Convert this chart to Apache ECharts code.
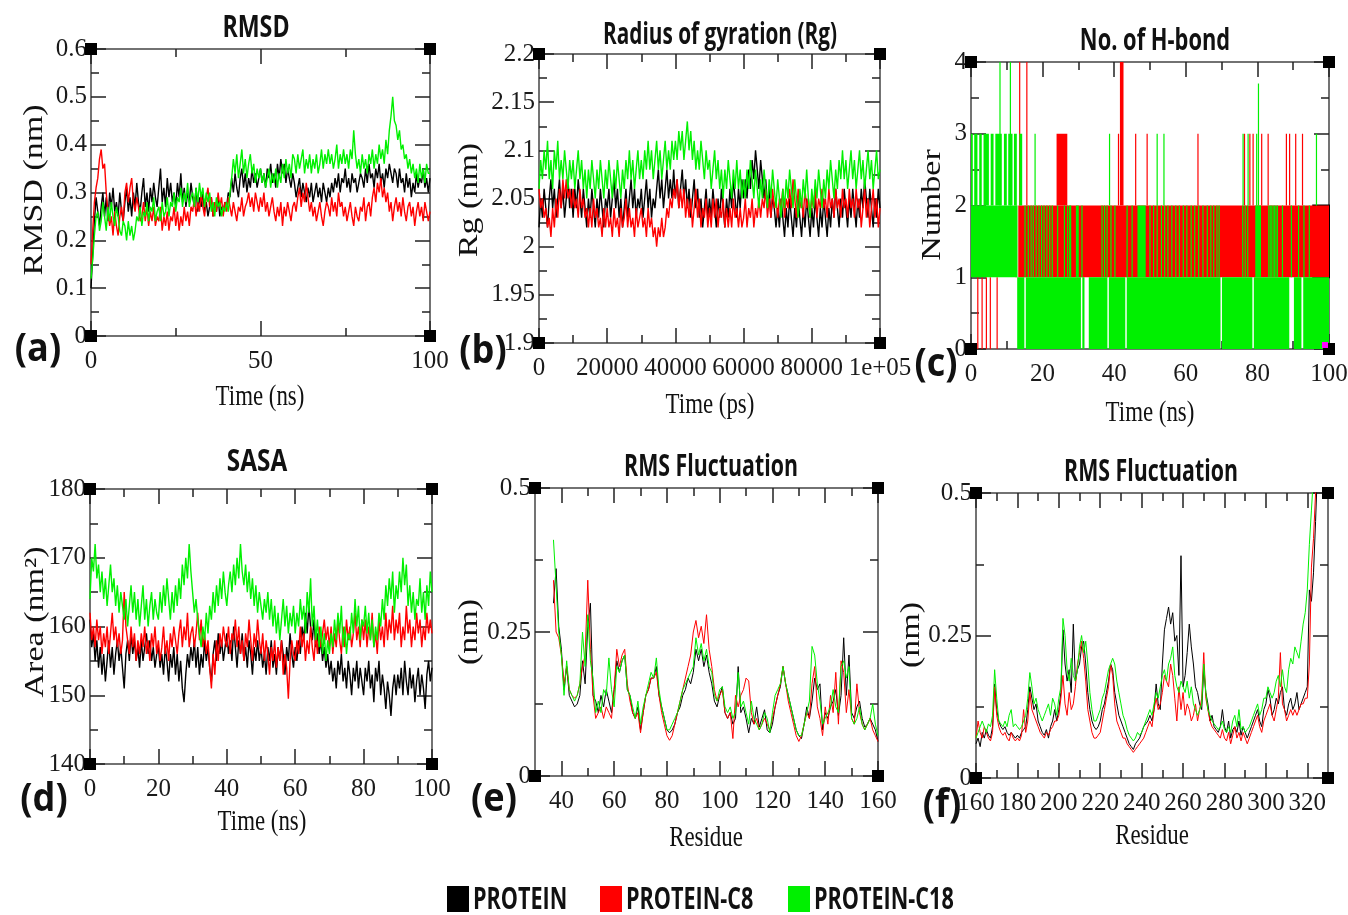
<!DOCTYPE html>
<html>
<head>
<meta charset="utf-8">
<title>MD analysis panels</title>
<script src="https://cdn.jsdelivr.net/npm/echarts@6/dist/echarts.min.js"></script>
<style>
  html, body { margin: 0; padding: 0; background: #fff; }
  #main { width: 1348px; height: 915px; }
</style>
</head>
<body>
<div id="main"></div>
<script>
// legend / series
var seriesNames = ['PROTEIN', 'PROTEIN-C8', 'PROTEIN-C18'];
var seriesColors = ['#000000', '#ff0000', '#00f000'];

// (a) RMSD (nm), one value per 0.5 ns, 0..100 ns
var rmsdBlack = [0.10,0.17,0.24,0.29,0.26,0.23,0.27,0.30,0.25,0.29,0.24,0.30,0.27,0.31,0.26,0.28,0.25,0.30,0.26,0.24,
  0.28,0.31,0.26,0.29,0.25,0.30,0.27,0.32,0.28,0.26,0.30,0.33,0.27,0.30,0.26,0.31,0.28,0.32,0.29,0.27,
  0.31,0.35,0.28,0.31,0.27,0.33,0.29,0.32,0.28,0.30,0.27,0.32,0.29,0.34,0.28,0.31,0.27,0.30,0.28,0.32,
  0.29,0.27,0.31,0.26,0.29,0.27,0.30,0.26,0.28,0.25,0.27,0.29,0.25,0.28,0.26,0.29,0.25,0.27,0.26,0.28,
  0.27,0.30,0.29,0.33,0.30,0.34,0.31,0.29,0.33,0.35,0.31,0.34,0.30,0.33,0.31,0.35,0.32,0.34,0.31,0.33,
  0.35,0.32,0.34,0.31,0.35,0.33,0.36,0.32,0.34,0.31,0.36,0.33,0.37,0.34,0.36,0.32,0.35,0.33,0.31,0.34,
  0.32,0.29,0.31,0.33,0.29,0.32,0.30,0.28,0.31,0.29,0.32,0.28,0.30,0.32,0.29,0.31,0.28,0.32,0.30,0.28,
  0.31,0.29,0.32,0.30,0.33,0.31,0.34,0.30,0.33,0.32,0.35,0.31,0.33,0.30,0.34,0.32,0.33,0.30,0.32,0.34,
  0.33,0.31,0.35,0.32,0.36,0.33,0.34,0.31,0.35,0.33,0.36,0.32,0.34,0.31,0.35,0.33,0.36,0.34,0.32,0.35,
  0.34,0.31,0.35,0.32,0.33,0.30,0.34,0.31,0.33,0.29,0.32,0.30,0.34,0.31,0.33,0.32,0.35,0.31,0.33,0.30,
  0.33];
var rmsdRed = [0.15,0.22,0.28,0.31,0.33,0.37,0.39,0.35,0.36,0.30,0.26,0.23,0.25,0.21,0.26,0.23,0.21,0.25,0.27,0.24,
  0.30,0.32,0.28,0.31,0.33,0.28,0.26,0.29,0.27,0.24,0.25,0.28,0.24,0.27,0.23,0.26,0.24,0.27,0.23,0.25,
  0.24,0.27,0.22,0.25,0.23,0.26,0.22,0.25,0.24,0.27,0.23,0.26,0.22,0.25,0.23,0.27,0.24,0.26,0.23,0.27,
  0.26,0.29,0.25,0.28,0.26,0.30,0.27,0.25,0.29,0.31,0.27,0.29,0.25,0.28,0.26,0.30,0.27,0.29,0.25,0.28,
  0.26,0.29,0.27,0.25,0.28,0.26,0.24,0.27,0.26,0.29,0.25,0.27,0.28,0.30,0.27,0.29,0.26,0.30,0.28,0.26,
  0.29,0.27,0.30,0.26,0.28,0.25,0.27,0.29,0.26,0.24,0.27,0.25,0.28,0.23,0.27,0.25,0.28,0.26,0.24,0.27,
  0.28,0.26,0.29,0.31,0.27,0.30,0.28,0.32,0.29,0.26,0.28,0.25,0.27,0.24,0.26,0.28,0.25,0.23,0.26,0.28,
  0.27,0.25,0.29,0.26,0.28,0.25,0.30,0.27,0.28,0.25,0.27,0.24,0.26,0.28,0.25,0.23,0.27,0.25,0.24,0.27,
  0.26,0.29,0.24,0.27,0.28,0.25,0.29,0.31,0.28,0.32,0.30,0.33,0.29,0.31,0.28,0.30,0.26,0.28,0.24,0.27,
  0.29,0.26,0.28,0.25,0.29,0.26,0.24,0.27,0.28,0.25,0.27,0.23,0.26,0.28,0.25,0.27,0.24,0.28,0.26,0.24,
  0.26];
var rmsdGreen = [0.12,0.16,0.21,0.25,0.26,0.22,0.24,0.28,0.25,0.22,0.27,0.24,0.28,0.25,0.23,0.27,0.25,0.22,0.21,0.24,
  0.23,0.20,0.24,0.21,0.23,0.20,0.22,0.25,0.24,0.27,0.23,0.26,0.25,0.28,0.24,0.27,0.26,0.29,0.24,0.26,
  0.27,0.24,0.28,0.25,0.26,0.29,0.25,0.28,0.27,0.30,0.26,0.29,0.28,0.31,0.27,0.30,0.28,0.32,0.27,0.29,
  0.30,0.27,0.31,0.28,0.32,0.29,0.31,0.27,0.30,0.28,0.30,0.26,0.28,0.25,0.29,0.27,0.28,0.25,0.27,0.26,
  0.28,0.26,0.30,0.33,0.37,0.34,0.38,0.33,0.36,0.39,0.34,0.37,0.33,0.36,0.38,0.34,0.36,0.32,0.35,0.33,
  0.35,0.32,0.34,0.31,0.33,0.35,0.31,0.34,0.32,0.35,0.31,0.34,0.32,0.36,0.33,0.37,0.34,0.36,0.33,0.38,
  0.37,0.34,0.38,0.35,0.37,0.39,0.34,0.37,0.35,0.38,0.34,0.37,0.35,0.38,0.34,0.36,0.39,0.35,0.38,0.36,
  0.39,0.36,0.38,0.35,0.37,0.40,0.35,0.38,0.36,0.39,0.36,0.38,0.35,0.39,0.37,0.43,0.38,0.35,0.37,0.34,
  0.38,0.35,0.37,0.34,0.38,0.36,0.39,0.35,0.38,0.36,0.40,0.37,0.39,0.36,0.41,0.38,0.43,0.46,0.50,0.45,
  0.44,0.41,0.43,0.39,0.40,0.37,0.38,0.35,0.37,0.34,0.36,0.33,0.35,0.32,0.36,0.33,0.35,0.32,0.36,0.34,
  0.34];

// (b) Rg (nm), one value per 500 ps
var rgBlack = [2.02,2.05,2.03,2.06,2.04,2.02,2.05,2.07,2.04,2.06,2.03,2.05,2.07,2.04,2.06,2.03,2.05,2.07,2.04,2.06,
  2.03,2.06,2.04,2.07,2.05,2.03,2.06,2.04,2.02,2.05,2.03,2.06,2.04,2.02,2.05,2.03,2.06,2.04,2.02,2.05,
  2.04,2.06,2.03,2.05,2.07,2.04,2.06,2.03,2.05,2.02,2.04,2.06,2.03,2.05,2.07,2.04,2.06,2.03,2.05,2.04,
  2.06,2.03,2.05,2.07,2.04,2.06,2.03,2.05,2.04,2.06,2.08,2.05,2.07,2.04,2.06,2.08,2.05,2.07,2.05,2.08,
  2.05,2.07,2.04,2.06,2.08,2.05,2.07,2.04,2.06,2.03,2.05,2.07,2.04,2.06,2.03,2.05,2.02,2.04,2.06,2.03,
  2.05,2.03,2.06,2.04,2.02,2.05,2.03,2.06,2.04,2.02,2.05,2.03,2.06,2.04,2.07,2.05,2.03,2.06,2.04,2.07,
  2.05,2.07,2.05,2.08,2.06,2.09,2.07,2.10,2.08,2.06,2.09,2.07,2.05,2.07,2.04,2.06,2.03,2.05,2.04,2.02,
  2.04,2.02,2.05,2.03,2.01,2.04,2.02,2.05,2.03,2.01,2.04,2.02,2.05,2.03,2.01,2.04,2.02,2.05,2.03,2.01,
  2.04,2.02,2.05,2.03,2.01,2.04,2.02,2.05,2.03,2.01,2.04,2.02,2.05,2.03,2.06,2.04,2.02,2.05,2.03,2.06,
  2.04,2.02,2.05,2.03,2.06,2.04,2.02,2.05,2.03,2.06,2.04,2.07,2.05,2.03,2.06,2.04,2.02,2.05,2.03,2.06,
  2.04];
var rgRed = [2.06,2.04,2.05,2.03,2.04,2.02,2.03,2.01,2.04,2.02,2.05,2.03,2.06,2.04,2.07,2.05,2.07,2.05,2.06,2.04,
  2.06,2.04,2.05,2.03,2.06,2.04,2.05,2.03,2.04,2.02,2.04,2.02,2.05,2.03,2.04,2.02,2.03,2.01,2.04,2.02,
  2.04,2.02,2.03,2.01,2.04,2.02,2.03,2.01,2.04,2.02,2.03,2.05,2.02,2.04,2.02,2.03,2.01,2.04,2.02,2.03,
  2.04,2.02,2.03,2.01,2.04,2.02,2.03,2.01,2.02,2.00,2.02,2.01,2.03,2.01,2.02,2.04,2.03,2.05,2.04,2.06,
  2.05,2.07,2.04,2.06,2.04,2.06,2.03,2.05,2.03,2.05,2.02,2.04,2.06,2.03,2.05,2.02,2.04,2.03,2.05,2.02,
  2.04,2.02,2.05,2.03,2.05,2.02,2.04,2.03,2.05,2.02,2.04,2.02,2.04,2.02,2.05,2.03,2.04,2.02,2.04,2.02,
  2.03,2.05,2.02,2.04,2.03,2.05,2.02,2.04,2.03,2.05,2.03,2.05,2.04,2.06,2.03,2.05,2.03,2.06,2.04,2.05,
  2.03,2.05,2.04,2.06,2.03,2.05,2.04,2.06,2.04,2.07,2.05,2.03,2.06,2.04,2.05,2.03,2.06,2.04,2.05,2.03,
  2.05,2.04,2.06,2.03,2.05,2.04,2.06,2.04,2.05,2.03,2.06,2.04,2.05,2.03,2.06,2.04,2.05,2.03,2.06,2.04,
  2.05,2.03,2.06,2.04,2.05,2.03,2.06,2.04,2.05,2.02,2.04,2.06,2.03,2.05,2.02,2.04,2.06,2.03,2.05,2.02,
  2.04];
var rgGreen = [2.06,2.09,2.07,2.10,2.08,2.11,2.07,2.09,2.06,2.10,2.08,2.11,2.07,2.09,2.07,2.10,2.08,2.06,2.09,2.07,
  2.09,2.06,2.08,2.10,2.07,2.09,2.06,2.08,2.05,2.08,2.06,2.09,2.07,2.05,2.08,2.06,2.09,2.07,2.05,2.08,
  2.06,2.09,2.07,2.05,2.08,2.06,2.09,2.07,2.05,2.08,2.06,2.09,2.07,2.10,2.07,2.09,2.06,2.08,2.10,2.07,
  2.09,2.07,2.10,2.08,2.11,2.08,2.10,2.07,2.09,2.11,2.08,2.10,2.07,2.09,2.11,2.08,2.10,2.08,2.11,2.09,
  2.11,2.09,2.12,2.10,2.12,2.09,2.11,2.13,2.10,2.12,2.09,2.11,2.08,2.10,2.08,2.11,2.09,2.07,2.10,2.08,
  2.09,2.06,2.08,2.10,2.07,2.09,2.06,2.08,2.05,2.08,2.06,2.09,2.07,2.05,2.08,2.06,2.09,2.06,2.08,2.05,
  2.07,2.05,2.08,2.06,2.09,2.07,2.05,2.08,2.06,2.04,2.07,2.05,2.08,2.06,2.04,2.07,2.05,2.08,2.06,2.04,
  2.07,2.05,2.03,2.06,2.04,2.07,2.05,2.08,2.06,2.04,2.07,2.05,2.03,2.06,2.04,2.07,2.05,2.08,2.05,2.03,
  2.06,2.04,2.07,2.05,2.08,2.06,2.04,2.07,2.05,2.08,2.06,2.09,2.07,2.05,2.08,2.06,2.09,2.07,2.10,2.07,
  2.09,2.06,2.08,2.10,2.07,2.09,2.06,2.08,2.10,2.07,2.09,2.06,2.08,2.10,2.07,2.09,2.06,2.08,2.10,2.07,
  2.08];

// (c) H-bond count: blocks [t0, t1, low, high] where the count flips between low and high,
// spikes [t, low, high] for single jumps
var hbBlackBlocks = [[95.6, 100, 1, 2]];
var hbRedBlocks = [[13.2, 100, 1, 2], [23.9, 26.9, 2, 3], [41.6, 42.6, 2, 4]];
var hbRedSpikes = [[1.9,0,1],[3.1,0,1],[4.3,0,1],[5.4,0,1],[7.3,0,1],[12.6,1,2],[13.6,2,4],[15.6,2,4],
  [41.2,2,3],[46.0,2,3],[49.2,2,3],[63.4,2,3],[76.4,2,3],[77.9,2,3],[78.8,2,3],[81.2,2,3],[83.0,2,3],
  [88.1,2,3],[89.0,2,3],[90.7,2,3],[92.6,2,3]];
var hbGreenBlocks = [[0,13.0,1,2],
  [0,0.5,2,3],[0.9,1.8,2,3],[2.3,3.0,2,3],[3.5,5.0,2,3],[5.5,6.3,2,3],[6.8,8.6,2,3],[9.2,10.0,2,3],
  [10.4,11.6,2,3],[12.0,12.8,2,3],[13.5,14.3,2,3],
  [12.9,14.9,0,1],[15.3,30.7,0,1],[31.1,31.7,0,1],[32.9,38.1,0,1],[38.5,43.1,0,1],[43.5,69.7,0,1],
  [70.1,78.6,0,1],[79.0,88.9,0,1],[90.2,92.3,0,1],[92.8,100,0,1],
  [27.4,28.0,1,2],[29.3,30.1,1,2],[46.5,48.8,1,2],[79.4,81.0,1,2]];
var hbGreenSpikes = [[15.1,1,2],[16.0,1,2],[16.8,1,2],[17.4,1,2],[18.2,1,2],[19.0,1,2],[19.7,1,2],[20.4,1,2],
  [21.2,1,2],[22.0,1,2],[22.7,1,2],[24.2,1,2],[26.1,1,2],[27.0,1,2],[31.0,1,2],[36.6,1,2],[37.3,1,2],
  [38.0,1,2],[39.1,1,2],[40.2,1,2],[43.6,1,2],[45.0,1,2],[50.0,1,2],[51.0,1,2],[52.0,1,2],[53.2,1,2],
  [54.1,1,2],[55.0,1,2],[56.1,1,2],[57.2,1,2],[58.2,1,2],[59.3,1,2],[60.3,1,2],[61.5,1,2],[62.5,1,2],
  [63.6,1,2],[64.8,1,2],[66.0,1,2],[67.0,1,2],[67.8,1,2],[68.7,1,2],[69.3,1,2],[75.9,1,2],[76.6,1,2],
  [77.3,1,2],[83.2,1,2],[83.6,1,2],[84.0,1,2],[84.4,1,2],[84.8,1,2],[85.2,1,2],[85.6,1,2],[87.0,1,2],
  [89.5,1,2],[91.5,1,2],[93.0,1,2],[94.5,1,2],
  [17.9,2,3],[38.7,2,3],[52.0,2,3],[53.9,2,3],[76.0,2,3],[77.4,2,3],[79.8,2,3],[96.5,2,3],
  [8.1,2,4],[11.0,2,4],[80.3,2,3.7]];
var hbExtra = [[100, 0]];

// (d) SASA (nm^2), one value per 0.5 ns
var sasaBlack = [161,157,159,155,158,154,157,153,156,152,155,158,154,157,153,156,158,155,157,154,
  151,156,158,155,159,156,158,155,157,154,158,155,157,159,156,158,155,157,154,156,
  157,154,156,153,157,155,152,156,154,157,153,156,152,155,151,149,153,156,154,157,
  155,158,154,157,153,156,154,158,155,157,154,152,156,158,155,159,156,158,155,157,
  159,156,158,155,160,157,154,158,156,159,155,157,154,158,156,153,157,155,158,155,
  157,154,156,153,157,155,158,154,156,153,157,155,158,156,153,157,155,159,156,154,
  157,155,158,156,160,158,162,159,163,160,158,161,157,159,156,158,155,157,154,156,
  153,155,152,154,151,155,153,156,152,154,151,155,153,150,154,152,155,151,154,152,
  150,154,152,155,151,153,149,154,152,155,150,153,151,148,152,150,147,151,153,150,
  153,151,154,150,155,152,150,154,151,153,149,152,154,150,153,151,148,153,155,152,
  154];
var sasaRed = [162,158,160,157,161,158,160,156,159,157,160,156,159,162,158,160,157,159,156,158,
  165,160,158,156,160,157,159,155,158,156,159,157,160,156,158,155,159,157,160,156,
  158,155,157,160,156,158,155,159,157,160,158,156,159,161,157,160,158,162,157,159,
  160,157,159,162,158,161,157,159,156,158,154,151,156,153,158,155,159,157,160,158,
  157,160,156,159,158,161,157,160,156,158,155,159,157,161,158,155,159,157,161,158,
  156,159,155,158,156,153,157,155,158,154,157,155,158,153,156,154,149.5,155,158,156,
  155,158,156,160,157,159,155,158,156,160,157,155,159,156,160,157,159,161,158,160,
  157,160,156,159,157,161,158,156,160,157,161,158,160,157,159,162,158,160,157,161,
  158,161,157,160,158,162,157,159,156,161,158,160,157,162,158,161,159,163,158,161,
  159,162,157,160,158,163,159,161,157,160,158,162,159,161,157,160,158,162,159,161,
  159];
var sasaGreen = [164,170,168,172,167,169,165,168,164,167,163,166,169,165,167,163,166,162,165,163,
  161,164,160,163,166,162,165,161,164,160,163,166,161,164,160,163,165,161,164,162,
  161,165,162,166,163,167,164,161,165,162,166,163,167,164,169,166,170,167,172,168,
  165,162,164,161,159,157,160,158,162,159,163,161,165,162,166,163,167,164,168,165,
  163,166,168,165,169,166,170,167,172,168,166,169,165,168,164,167,163,166,162,165,
  163,161,164,162,165,161,164,160,163,159,162,158,161,164,160,163,159,162,160,163,
  159,162,160,164,161,163,159,165,162,167,160,163,158,161,157,160,156,159,155,158,
  156,159,157,161,158,162,159,163,157,160,156,159,158,162,159,164,160,163,158,161,
  160,163,159,162,158,161,157,160,158,162,160,164,161,166,163,167,164,168,162,166,
  164,168,165,170,166,169,163,166,162,165,161,164,163,167,162,165,161,166,163,168,
  165];

// (e) RMSF (nm), residues 37..160
var rmsfEStart = 37;
var rmsfEBlack = [0.30,0.36,0.26,0.22,0.15,0.19,0.14,0.13,0.12,0.125,
  0.14,0.20,0.16,0.26,0.30,0.14,0.13,0.11,0.14,0.12,
  0.15,0.13,0.11,0.15,0.20,0.18,0.20,0.21,0.15,0.14,
  0.11,0.10,0.12,0.08,0.11,0.14,0.15,0.17,0.17,0.19,
  0.14,0.12,0.10,0.08,0.075,0.08,0.09,0.11,0.12,0.14,
  0.15,0.17,0.16,0.18,0.22,0.20,0.22,0.19,0.21,0.18,
  0.16,0.13,0.12,0.14,0.155,0.11,0.10,0.11,0.09,0.10,
  0.19,0.11,0.12,0.10,0.075,0.10,0.09,0.12,0.085,0.10,
  0.115,0.08,0.075,0.09,0.12,0.14,0.155,0.19,0.16,0.14,
  0.12,0.10,0.08,0.07,0.065,0.09,0.12,0.10,0.13,0.17,
  0.15,0.16,0.08,0.11,0.10,0.12,0.13,0.15,0.105,0.14,
  0.24,0.14,0.21,0.11,0.10,0.12,0.13,0.10,0.085,0.09,
  0.10,0.09,0.08,0.06];
var rmsfERed = [0.34,0.25,0.24,0.21,0.16,0.19,0.15,0.14,0.135,0.14,
  0.16,0.19,0.21,0.34,0.22,0.14,0.10,0.11,0.12,0.10,
  0.12,0.11,0.10,0.15,0.22,0.19,0.21,0.22,0.16,0.13,
  0.11,0.10,0.11,0.075,0.11,0.14,0.15,0.17,0.17,0.18,
  0.14,0.11,0.09,0.07,0.062,0.07,0.09,0.11,0.13,0.15,
  0.17,0.19,0.21,0.25,0.27,0.24,0.26,0.23,0.28,0.22,
  0.19,0.15,0.13,0.14,0.15,0.11,0.10,0.11,0.065,0.14,
  0.12,0.14,0.15,0.17,0.165,0.11,0.09,0.10,0.08,0.09,
  0.10,0.09,0.08,0.10,0.12,0.14,0.16,0.19,0.16,0.13,
  0.11,0.09,0.07,0.06,0.07,0.09,0.11,0.10,0.16,0.19,
  0.12,0.10,0.07,0.12,0.09,0.14,0.11,0.18,0.09,0.20,
  0.18,0.11,0.15,0.10,0.09,0.16,0.11,0.09,0.08,0.09,
  0.10,0.08,0.07,0.06];
var rmsfEGreen = [0.41,0.33,0.25,0.21,0.14,0.20,0.15,0.14,0.13,0.14,
  0.16,0.25,0.19,0.28,0.20,0.17,0.11,0.13,0.11,0.15,
  0.14,0.205,0.15,0.12,0.19,0.18,0.20,0.21,0.15,0.14,
  0.12,0.10,0.13,0.09,0.12,0.14,0.16,0.18,0.17,0.205,
  0.15,0.12,0.10,0.08,0.08,0.09,0.10,0.11,0.13,0.15,
  0.16,0.17,0.18,0.19,0.24,0.21,0.23,0.20,0.22,0.19,
  0.18,0.14,0.13,0.15,0.155,0.12,0.11,0.12,0.10,0.11,
  0.18,0.12,0.13,0.11,0.09,0.13,0.10,0.09,0.08,0.09,
  0.11,0.10,0.075,0.11,0.14,0.15,0.16,0.19,0.16,0.14,
  0.12,0.10,0.08,0.07,0.07,0.09,0.11,0.13,0.225,0.21,
  0.16,0.13,0.09,0.10,0.11,0.12,0.15,0.12,0.11,0.19,
  0.20,0.17,0.19,0.10,0.09,0.10,0.12,0.09,0.08,0.09,
  0.10,0.125,0.09,0.07];

// (f) RMSF (nm), residues 160..326
var rmsfFStart = 160;
var rmsfFBlack = [0.06,0.07,0.055,0.08,0.07,0.085,0.075,0.07,0.09,0.165,
  0.12,0.10,0.09,0.085,0.09,0.08,0.075,0.08,0.075,0.07,
  0.075,0.07,0.08,0.085,0.09,0.12,0.16,0.14,0.12,0.13,
  0.10,0.09,0.08,0.075,0.085,0.07,0.09,0.10,0.12,0.10,
  0.12,0.15,0.26,0.20,0.17,0.19,0.15,0.27,0.17,0.19,
  0.20,0.23,0.24,0.20,0.15,0.12,0.10,0.09,0.085,0.09,
  0.10,0.12,0.13,0.15,0.17,0.20,0.19,0.15,0.13,0.11,
  0.10,0.09,0.08,0.07,0.06,0.055,0.05,0.06,0.065,0.07,
  0.08,0.09,0.095,0.10,0.11,0.10,0.12,0.165,0.13,0.12,
  0.20,0.26,0.28,0.30,0.27,0.29,0.24,0.25,0.18,0.39,
  0.16,0.18,0.22,0.27,0.23,0.20,0.16,0.15,0.13,0.12,
  0.19,0.15,0.13,0.10,0.11,0.09,0.085,0.08,0.09,0.12,
  0.09,0.08,0.10,0.07,0.085,0.09,0.08,0.10,0.075,0.09,
  0.08,0.07,0.08,0.09,0.10,0.11,0.12,0.10,0.09,0.12,
  0.13,0.155,0.14,0.11,0.12,0.14,0.13,0.15,0.16,0.12,
  0.11,0.13,0.14,0.12,0.13,0.15,0.12,0.13,0.14,0.15,
  0.16,0.33,0.31,0.36,0.45,0.55,0.60];
var rmsfFRed = [0.07,0.10,0.08,0.07,0.09,0.08,0.07,0.065,0.08,0.16,
  0.11,0.09,0.08,0.075,0.08,0.07,0.065,0.08,0.07,0.065,
  0.07,0.065,0.075,0.12,0.08,0.10,0.15,0.12,0.11,0.10,
  0.09,0.08,0.075,0.07,0.08,0.075,0.085,0.09,0.10,0.10,
  0.11,0.14,0.18,0.13,0.11,0.15,0.12,0.13,0.16,0.20,
  0.22,0.24,0.21,0.17,0.12,0.10,0.08,0.07,0.07,0.075,
  0.08,0.10,0.12,0.14,0.16,0.20,0.18,0.13,0.10,0.09,
  0.08,0.07,0.07,0.06,0.055,0.05,0.045,0.05,0.055,0.06,
  0.065,0.07,0.08,0.09,0.10,0.09,0.12,0.14,0.12,0.13,
  0.15,0.18,0.17,0.16,0.20,0.18,0.14,0.10,0.16,0.12,
  0.15,0.11,0.13,0.12,0.10,0.11,0.13,0.10,0.12,0.14,
  0.22,0.14,0.12,0.10,0.09,0.085,0.08,0.075,0.07,0.085,
  0.07,0.065,0.08,0.06,0.075,0.09,0.07,0.08,0.065,0.08,
  0.07,0.06,0.07,0.08,0.09,0.10,0.11,0.09,0.08,0.10,
  0.11,0.12,0.13,0.11,0.10,0.12,0.14,0.22,0.13,0.12,
  0.10,0.11,0.12,0.11,0.12,0.11,0.12,0.13,0.13,0.14,
  0.14,0.20,0.37,0.42,0.50,0.56,0.60];
var rmsfFGreen = [0.07,0.08,0.09,0.10,0.09,0.08,0.095,0.09,0.11,0.19,
  0.14,0.10,0.095,0.09,0.10,0.09,0.11,0.12,0.09,0.095,
  0.09,0.085,0.09,0.10,0.11,0.14,0.185,0.16,0.13,0.14,
  0.12,0.11,0.10,0.11,0.12,0.13,0.11,0.14,0.13,0.11,
  0.14,0.16,0.28,0.25,0.19,0.17,0.21,0.18,0.17,0.19,
  0.23,0.25,0.22,0.24,0.20,0.15,0.12,0.10,0.10,0.11,
  0.12,0.14,0.15,0.17,0.19,0.20,0.21,0.20,0.17,0.15,
  0.13,0.11,0.10,0.085,0.075,0.07,0.065,0.07,0.08,0.075,
  0.08,0.09,0.10,0.11,0.12,0.11,0.13,0.15,0.14,0.16,
  0.18,0.19,0.17,0.20,0.21,0.23,0.18,0.16,0.15,0.17,
  0.16,0.15,0.17,0.14,0.16,0.13,0.12,0.11,0.12,0.13,
  0.20,0.15,0.12,0.11,0.10,0.095,0.09,0.085,0.09,0.10,
  0.085,0.08,0.09,0.08,0.10,0.11,0.09,0.12,0.085,0.09,
  0.08,0.085,0.09,0.10,0.11,0.12,0.13,0.11,0.12,0.14,
  0.14,0.16,0.15,0.14,0.15,0.17,0.18,0.16,0.19,0.16,
  0.15,0.19,0.21,0.20,0.23,0.22,0.21,0.24,0.27,0.29,
  0.33,0.41,0.47,0.53,0.60,0.65,0.70];

// axis extents and tick values
var rmsdX = { min: 0, max: 100, major: [0, 50, 100], minor: [25, 75] };
var rmsdY = { min: 0, max: 0.6, major: [0, 0.1, 0.2, 0.3, 0.4, 0.5, 0.6], minor: [0.05, 0.15, 0.25, 0.35, 0.45, 0.55] };
var rgX = { min: 0, max: 100000, major: [0, 20000, 40000, 60000, 80000, 100000], minor: [10000, 30000, 50000, 70000, 90000] };
var rgY = { min: 1.9, max: 2.2, major: [1.9, 1.95, 2, 2.05, 2.1, 2.15, 2.2], minor: [1.925, 1.975, 2.025, 2.075, 2.125, 2.175] };
var hbX = { min: 0, max: 100, major: [0, 20, 40, 60, 80, 100], minor: [10, 30, 50, 70, 90] };
var hbY = { min: 0, max: 4, major: [0, 1, 2, 3, 4], minor: [0.5, 1.5, 2.5, 3.5] };
var sasaX = { min: 0, max: 100, major: [0, 20, 40, 60, 80, 100], minor: [10, 30, 50, 70, 90] };
var sasaY = { min: 140, max: 180, major: [140, 150, 160, 170, 180], minor: [145, 155, 165, 175] };
var rmsfEX = { min: 30, max: 160, major: [40, 60, 80, 100, 120, 140, 160], minor: [50, 70, 90, 110, 130, 150] };
var rmsfFX = { min: 160, max: 330, major: [160, 180, 200, 220, 240, 260, 280, 300, 320], minor: [170, 190, 210, 230, 250, 270, 290, 310] };
var rmsfY = { min: 0, max: 0.5, major: [0, 0.25, 0.5], minor: [0.125, 0.375] };

var SERIF = "'Liberation Serif', 'Times New Roman', serif";
var SANS = "'Liberation Sans Narrow', 'Open Sans', 'Liberation Sans', sans-serif";

var myChart = echarts.init(document.getElementById('main'));

var option = {
  animation: false,
  backgroundColor: '#ffffff',
  grid: [], xAxis: [], yAxis: [], series: [], graphic: []
};

function axis(g, pos, s, kind, isX, labels, fmt) {
  var major = kind === 'major';
  return {
    type: 'value', gridIndex: g, position: pos, min: s.min, max: s.max,
    axisLine: { show: major, onZero: false, lineStyle: { color: '#444', width: 1.5 } },
    axisTick: { show: true, inside: true, length: major ? 15 : 8, customValues: major ? s.major : s.minor,
      lineStyle: { color: '#222', width: 1.5 } },
    axisLabel: { show: labels, customValues: s.major, hideOverlap: false, showMinLabel: true, showMaxLabel: true,
      margin: isX ? 13 : 4, fontFamily: SERIF, fontSize: 25, color: '#1a1a1a',
      formatter: fmt || function (v) { return String(+v.toFixed(4)); } },
    splitLine: { show: false }
  };
}

function addPanel(box, xs, ys, xfmt) {
  var g = option.grid.length;
  option.grid.push({ left: box[0], top: box[1], width: box[2], height: box[3], outerBoundsMode: 'none' });
  var xi = option.xAxis.length, yi = option.yAxis.length;
  option.xAxis.push(axis(g, 'bottom', xs, 'major', true, true, xfmt));
  option.xAxis.push(axis(g, 'bottom', xs, 'minor', true, false));
  option.xAxis.push(axis(g, 'top', xs, 'major', true, false));
  option.xAxis.push(axis(g, 'top', xs, 'minor', true, false));
  option.yAxis.push(axis(g, 'left', ys, 'major', false, true));
  option.yAxis.push(axis(g, 'left', ys, 'minor', false, false));
  option.yAxis.push(axis(g, 'right', ys, 'major', false, false));
  option.yAxis.push(axis(g, 'right', ys, 'minor', false, false));
  // corner markers of the frame
  option.series.push({
    type: 'scatter', xAxisIndex: xi, yAxisIndex: yi, symbol: 'rect', symbolSize: 12, silent: true, clip: false, z: 5,
    itemStyle: { color: '#000', opacity: 1 },
    data: [[xs.min, ys.min], [xs.min, ys.max], [xs.max, ys.min], [xs.max, ys.max]]
  });
  return { xi: xi, yi: yi };
}

function pairs(arr, start, step) {
  return arr.map(function (v, i) { return [start + i * step, v]; });
}

function addLines(p, lists, start, step, width) {
  lists.forEach(function (arr, k) {
    option.series.push({
      name: seriesNames[k], type: 'line', xAxisIndex: p.xi, yAxisIndex: p.yi,
      data: pairs(arr, start, step), showSymbol: false, symbol: 'none',
      lineStyle: { color: seriesColors[k], width: width }, itemStyle: { color: seriesColors[k] },
      clip: true, z: 2
    });
  });
}

// (a)
var pa = addPanel([91, 49, 339, 287], rmsdX, rmsdY);
addLines(pa, [rmsdBlack, rmsdRed, rmsdGreen], 0, 0.5, 1.4);

// (b)
var pb = addPanel([539, 54, 341, 289], rgX, rgY, function (v) { return v === 100000 ? '1e+05' : String(v); });
addLines(pb, [rgBlack, rgRed, rgGreen], 0, 500, 1.4);

// (c)
var pc = addPanel([971, 62, 358, 287], hbX, hbY);
function blockSeries(name, color, data, stroke) {
  return {
    name: name, type: 'custom', xAxisIndex: pc.xi, yAxisIndex: pc.yi, data: data, z: 2,
    encode: { x: [0, 1], y: [2, 3] },
    renderItem: function (params, api) {
      var a = api.coord([api.value(0), api.value(3)]);
      var b = api.coord([api.value(1), api.value(2)]);
      return { type: 'rect', shape: { x: a[0], y: a[1], width: Math.max(b[0] - a[0], 1), height: b[1] - a[1] },
        style: { fill: color, stroke: stroke ? color : null, lineWidth: stroke ? 2 : 0 } };
    }
  };
}
function spikeSeries(name, color, data) {
  return {
    name: name, type: 'custom', xAxisIndex: pc.xi, yAxisIndex: pc.yi, data: data, z: 2,
    encode: { x: 0, y: [1, 2] },
    renderItem: function (params, api) {
      var a = api.coord([api.value(0), api.value(1)]);
      var b = api.coord([api.value(0), api.value(2)]);
      return { type: 'line', shape: { x1: a[0], y1: a[1], x2: b[0], y2: b[1] },
        style: { stroke: color, lineWidth: 1.2 } };
    }
  };
}
option.series.push(blockSeries(seriesNames[0], seriesColors[0], hbBlackBlocks, true));
option.series.push(blockSeries(seriesNames[1], seriesColors[1], hbRedBlocks, false));
option.series.push(spikeSeries(seriesNames[1], seriesColors[1], hbRedSpikes));
option.series.push(blockSeries(seriesNames[2], seriesColors[2], hbGreenBlocks, false));
option.series.push(spikeSeries(seriesNames[2], seriesColors[2], hbGreenSpikes));
option.series.push({ type: 'scatter', xAxisIndex: pc.xi, yAxisIndex: pc.yi, data: hbExtra, symbol: 'rect',
  symbolSize: 6, symbolOffset: [-4, -4], itemStyle: { color: '#ff00ff', opacity: 1 }, z: 6, clip: false, silent: true });

// (d)
var pd = addPanel([90, 489, 342, 275], sasaX, sasaY);
addLines(pd, [sasaBlack, sasaRed, sasaGreen], 0, 0.5, 1.4);

// (e)
var pe = addPanel([535, 488, 343, 288], rmsfEX, rmsfY);
addLines(pe, [rmsfEBlack, rmsfERed, rmsfEGreen], rmsfEStart, 1, 1);

// (f)
var pf = addPanel([976, 493, 352, 285], rmsfFX, rmsfY);
addLines(pf, [rmsfFBlack, rmsfFRed, rmsfFGreen], rmsfFStart, 1, 1);

// texts (scaled to mimic the condensed figure fonts)
function txt(s, x, y, font, size, weight, rot, sx, sy, align) {
  option.graphic.push({
    type: 'text', x: x, y: y, rotation: rot || 0, scaleX: sx || 1, scaleY: sy || 1, z: 10, silent: true,
    style: { text: s, fontFamily: font, fontSize: size, fontWeight: weight || 'normal', fill: '#111',
      align: align || 'center', verticalAlign: 'middle' }
  });
}
[['RMSD', 256, 28, 0.86], ['Radius of gyration (Rg)', 720, 35, 0.77], ['No. of H-bond', 1155, 41, 0.81],
 ['SASA', 257, 462, 0.9], ['RMS Fluctuation', 711, 467, 0.79], ['RMS Fluctuation', 1151, 472, 0.79]].forEach(function (t) {
  txt(t[0], t[1], t[2], SANS, 27, 'bold', 0, t[3], 1.12);
});
[['RMSD (nm)', 35, 190], ['Rg (nm)', 470, 200], ['Number', 933, 205],
 ['Area (nm\u00b2)', 36, 622], ['(nm)', 470, 632], ['(nm)', 912, 635]].forEach(function (t) {
  txt(t[0], t[1], t[2], SERIF, 27, 'normal', Math.PI / 2, 1.26, 1);
});
[['Time (ns)', 260, 397], ['Time (ps)', 710, 405], ['Time (ns)', 1150, 413],
 ['Time (ns)', 262, 822], ['Residue', 706, 838], ['Residue', 1152, 836]].forEach(function (t) {
  txt(t[0], t[1], t[2], SERIF, 26, 'normal', 0, 0.88, 1.12);
});
[['(a)', 38, 350], ['(b)', 483, 352], ['(c)', 936, 365],
 ['(d)', 44, 800], ['(e)', 494, 800], ['(f)', 942, 806]].forEach(function (t) {
  txt(t[0], t[1], t[2], SANS, 38, 'bold', 0, 0.95, 1.05);
});

// legend drawn as swatches and labels
var legendX = [447, 600, 788];
seriesNames.forEach(function (n, i) {
  option.graphic.push({ type: 'rect', x: legendX[i], y: 886, shape: { width: 22, height: 26 },
    style: { fill: seriesColors[i] }, silent: true });
  txt(n, legendX[i] + 26, 900, SANS, 27, 'bold', 0, 0.8, 1.15, 'left');
});

myChart.setOption(option);
window.addEventListener('resize', myChart.resize, { passive: true });
</script>
</body>
</html>
